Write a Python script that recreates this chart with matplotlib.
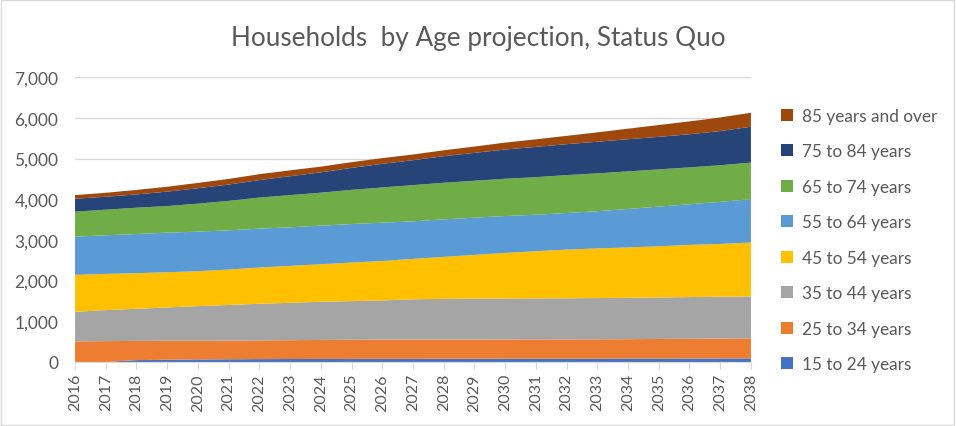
import matplotlib.pyplot as plt
from matplotlib.patches import Rectangle

years = list(range(2016, 2039))

age_15_24 = [0, 0, 45, 55, 62, 66, 70, 72, 74, 75, 76, 77, 78, 78, 79, 80, 80, 81, 82, 83, 84, 85, 87]
age_25_34 = [505, 512, 472, 465, 460, 458, 460, 463, 466, 470, 472, 473, 473, 474, 474, 474, 475, 476, 478, 482, 486, 490, 493]
age_35_44 = [728, 762, 790, 819, 851, 876, 900, 919, 939, 950, 964, 990, 999, 1003, 1007, 1008, 1010, 1013, 1017, 1020, 1025, 1028, 1030]
age_45_54 = [907, 891, 874, 866, 857, 870, 890, 907, 923, 948, 968, 993, 1032, 1076, 1120, 1159, 1196, 1220, 1238, 1258, 1281, 1297, 1325]
age_55_64 = [940, 948, 964, 972, 973, 965, 956, 948, 948, 947, 943, 923, 923, 915, 907, 898, 900, 915, 945, 975, 1000, 1035, 1065]
age_65_74 = [613, 629, 646, 654, 687, 725, 764, 791, 810, 840, 866, 890, 899, 907, 915, 923, 931, 930, 924, 915, 906, 899, 900]
age_75_84 = [318, 318, 327, 355, 380, 400, 430, 465, 500, 540, 580, 613, 653, 686, 719, 744, 760, 778, 790, 800, 815, 840, 880]
age_85_up = [90, 98, 110, 120, 130, 138, 145, 145, 140, 140, 140, 140, 145, 155, 170, 185, 205, 230, 260, 290, 315, 335, 345]

labels = ['15 to 24 years', '25 to 34 years', '35 to 44 years', '45 to 54 years',
          '55 to 64 years', '65 to 74 years', '75 to 84 years', '85 years and over']
colors = ['#4472C4', '#ED7D31', '#A5A5A5', '#FFC000',
          '#5B9BD5', '#70AD47', '#264478', '#9E480E']

plt.rcParams['font.family'] = ['Lato', 'DejaVu Sans']
text_col = '#595959'

fig = plt.figure(figsize=(9.56, 4.27), dpi=100)
ax = fig.add_axes([0.0785, 0.150, 0.707, 0.667])

series = [age_15_24, age_25_34, age_35_44, age_45_54,
          age_55_64, age_65_74, age_75_84, age_85_up]
polys = ax.stackplot(years, *series, labels=labels, colors=colors, linewidth=0)

ax.set_xlim(2016, 2038)
ax.set_ylim(0, 7000)
ax.set_yticks(range(0, 7001, 1000))
ax.set_yticklabels([f'{v:,}' for v in range(0, 7001, 1000)])
ax.set_xticks(years)
ax.set_xticklabels([str(y) for y in years], rotation=90)
ax.grid(axis='y', color='#D9D9D9', linewidth=1)
ax.set_axisbelow(True)
for s in ['top', 'right', 'left']:
    ax.spines[s].set_visible(False)
ax.spines['bottom'].set_color('#D9D9D9')
ax.tick_params(axis='y', length=0, labelsize=12.5, labelcolor=text_col, pad=12)
ax.tick_params(axis='x', length=5, color='#D9D9D9', labelsize=11.5, labelcolor=text_col, pad=3)

ax.set_title('Households  by Age projection, Status Quo', fontsize=18.8,
             color=text_col, pad=23, x=0.596)

# legend, top entry first like Excel
handles = polys[::-1]
leg = fig.legend(handles, labels[::-1], loc='upper left', bbox_to_anchor=(0.801, 0.781),
                 frameon=False, fontsize=12.4, labelspacing=1.13, handlelength=0.7,
                 handleheight=0.7, handletextpad=0.5)
for t in leg.get_texts():
    t.set_color(text_col)

fig.patches.append(Rectangle((0.001, 0.002), 0.997, 0.996, transform=fig.transFigure,
                             fill=False, edgecolor='#D9D9D9', linewidth=1))

fig.savefig('out.png', dpi=100)
